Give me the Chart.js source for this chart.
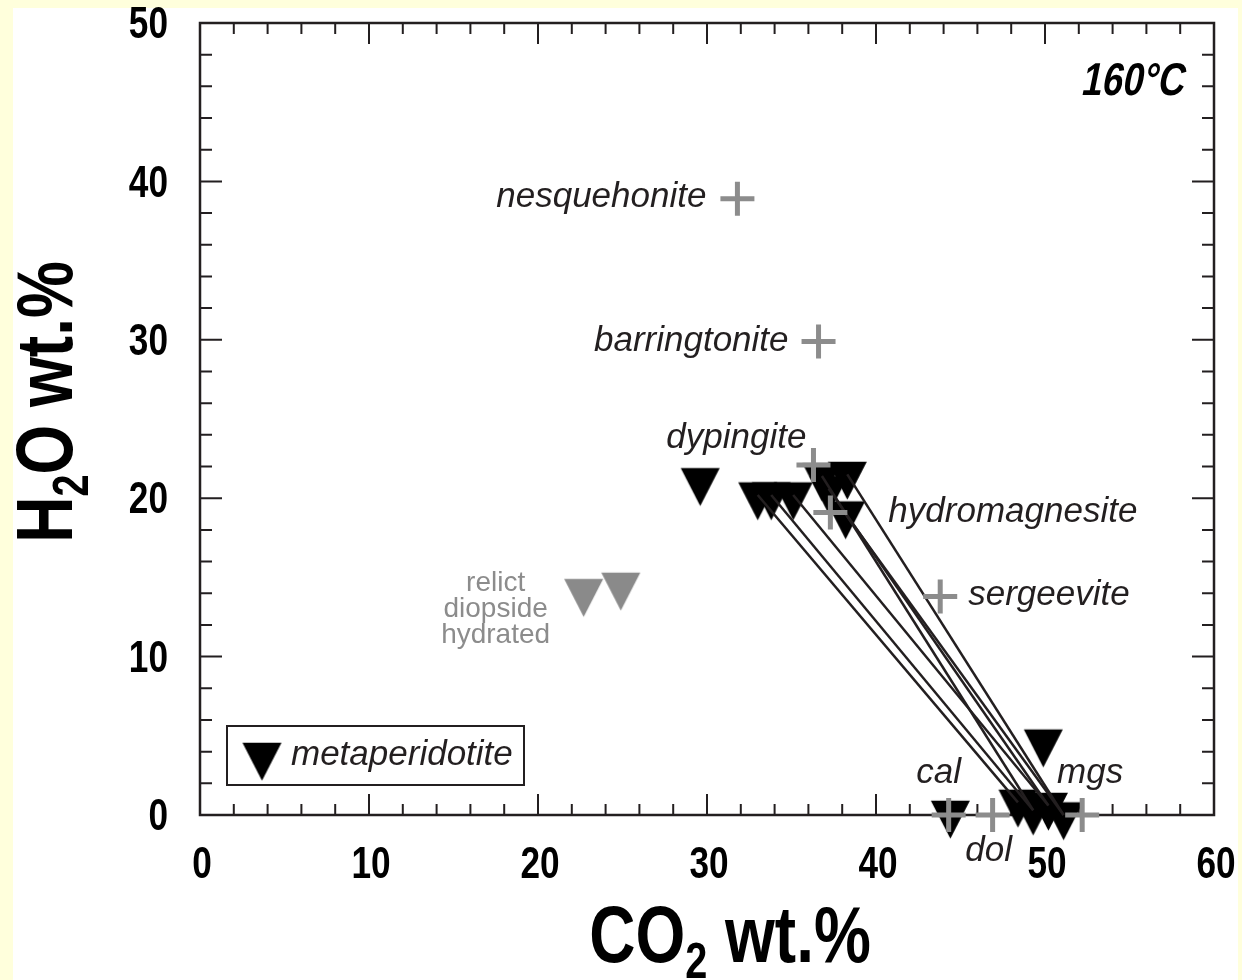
<!DOCTYPE html>
<html lang="en">
<head>
<meta charset="UTF-8" />
<title>H2O vs CO2, 160 C</title>
<script src="https://cdn.jsdelivr.net/npm/chart.js"></script>
<style>
  html, body { margin: 0; padding: 0; background: #ffffdc; }
  #sheet { position: absolute; left: 13px; top: 8px; width: 1225px; height: 972px; background: #fff; }
  #wrap { position: absolute; left: 0; top: 0; width: 1242px; height: 980px; }
</style>
</head>
<body>
<div id="sheet"></div>
<div id="wrap"><canvas id="chart"></canvas></div>
<script>
// reference minerals (grey crosses)
const mineralNames = ["nesquehonite", "barringtonite", "dypingite", "hydromagnesite", "sergeevite", "cal", "dol", "mgs"];
const mineralCO2 = [31.8, 36.6, 36.3, 37.3, 43.8, 44.3, 46.9, 52.2];
const mineralH2O = [38.9, 29.9, 22.1, 19.1, 13.8, 0, 0, 0];

// metaperidotite run products (black triangles)
const metaCO2 = [29.6, 33.0, 33.8, 35.1, 36.8, 38.3, 37.2, 38.2, 49.9, 44.4, 48.4, 49.3, 50.2, 51.1];
const metaH2O = [21.1, 20.2, 20.2, 20.2, 21.4, 21.5, 20.6, 19.0, 4.6, 0.1, 0.8, 0.3, 0.6, 0.0];

// tie lines between metaperidotite points (indices)
const tieFrom = [1, 2, 3, 4, 6, 5, 7];
const tieTo = [10, 11, 12, 11, 12, 13, 13];

// relict diopside, hydrated (grey triangles)
const relictCO2 = [22.7, 24.9];
const relictH2O = [14.1, 14.5];
const relictText = ["relict", "diopside", "hydrated"];

const legendText = "metaperidotite";
const tempText = "160°C";
const xMajor = 10, yMajor = 10, minorStep = 2;

// label placement, pixels from each mineral cross
const labelDX = [-31, -30, -7, 58, 28, -10, -4, 8];
const labelDY = [-2, 0, -27, 0, -1, -42, 36, -42];
const labelAlign = ["right", "right", "right", "left", "left", "center", "center", "center"];

const SANS = "'Liberation Sans', Arial, sans-serif";
const squeeze = 0.8; // condensed look for the bold axis text

const pts = (xs, ys) => xs.map((x, i) => ({ x: x, y: ys[i] }));

// downward triangle marker, centroid at the image centre
function triMarker(color, w, h) {
  const c = document.createElement("canvas");
  c.width = Math.ceil(w) + 2;
  c.height = Math.ceil(h * 4 / 3) + 2;
  const g = c.getContext("2d");
  const cx = c.width / 2, top = c.height / 2 - h / 3;
  g.fillStyle = color;
  g.beginPath();
  g.moveTo(cx - w / 2, top);
  g.lineTo(cx + w / 2, top);
  g.lineTo(cx, top + h);
  g.closePath();
  g.fill();
  return c;
}
const blackTri = triMarker("#000", 39, 38);
const greyTri = triMarker("#8a8a8a", 39, 38);

// bold condensed text with optional subscript pieces
function boldText(ctx, parts, x, y, size, align, style) {
  const f = s => (style || "") + " bold " + s + "px " + SANS;
  ctx.save();
  ctx.translate(x, y);
  ctx.scale(squeeze, 1);
  let w = 0;
  for (const p of parts) {
    ctx.font = f(p.sub ? size * 0.62 : size);
    w += ctx.measureText(p.t).width;
  }
  let cx = align === "center" ? -w / 2 : align === "right" ? -w : 0;
  ctx.textAlign = "left";
  for (const p of parts) {
    ctx.font = f(p.sub ? size * 0.62 : size);
    ctx.fillText(p.t, cx, p.sub ? size * 0.2 : 0);
    cx += ctx.measureText(p.t).width;
  }
  ctx.restore();
}

const framePlugin = {
  id: "frame",
  beforeDatasetsDraw(chart) {
    const { ctx, chartArea: a, scales: { x, y } } = chart;
    ctx.save();
    ctx.strokeStyle = "#231f20";
    ctx.lineWidth = 2.5;
    ctx.strokeRect(a.left, a.top, a.right - a.left, a.bottom - a.top);
    ctx.lineWidth = 2;
    ctx.beginPath();
    for (let v = x.min; v <= x.max; v += minorStep) {
      const px = x.getPixelForValue(v);
      const len = v % xMajor === 0 ? 21 : 11;
      ctx.moveTo(px, a.bottom); ctx.lineTo(px, a.bottom - len);
      ctx.moveTo(px, a.top); ctx.lineTo(px, a.top + len);
    }
    for (let v = y.min; v <= y.max; v += minorStep) {
      const py = y.getPixelForValue(v);
      const len = v % yMajor === 0 ? 22 : 12;
      ctx.moveTo(a.left, py); ctx.lineTo(a.left + len, py);
      ctx.moveTo(a.right, py); ctx.lineTo(a.right - len, py);
    }
    ctx.stroke();
    // tick labels
    ctx.fillStyle = "#000";
    ctx.textBaseline = "middle";
    x.ticks.forEach(t => boldText(ctx, [{ t: String(t.value) }], x.getPixelForValue(t.value) + 2, a.bottom + 51, 44, "center"));
    y.ticks.forEach(t => boldText(ctx, [{ t: String(t.value) }], a.left - 32, y.getPixelForValue(t.value) + 3, 44, "right"));
    ctx.restore();
  },
  afterDatasetsDraw(chart) {
    const { ctx, chartArea: a, scales: { x, y } } = chart;
    ctx.save();
    // mineral labels
    ctx.fillStyle = "#231f20";
    ctx.font = "italic 35px " + SANS;
    ctx.textBaseline = "middle";
    mineralNames.forEach((n, i) => {
      ctx.textAlign = labelAlign[i];
      ctx.fillText(n, x.getPixelForValue(mineralCO2[i]) + labelDX[i], y.getPixelForValue(mineralH2O[i]) + labelDY[i]);
    });
    // relict diopside label
    ctx.fillStyle = "#8c8c8c";
    ctx.font = "28px " + SANS;
    ctx.textAlign = "center";
    ctx.textBaseline = "alphabetic";
    const rx = x.getPixelForValue(relictCO2[0]) - 88;
    const ry = y.getPixelForValue(relictH2O[0]);
    relictText.forEach((t, i) => ctx.fillText(t, rx, ry - 1 + i * 26));
    // temperature
    ctx.fillStyle = "#000";
    ctx.textBaseline = "alphabetic";
    ctx.save();
    ctx.translate(a.right - 31, a.top + 72);
    ctx.transform(1, 0, -0.2, 1, 0, 0);
    boldText(ctx, [{ t: tempText }], 0, 0, 46, "right");
    ctx.restore();
    // legend box
    const lx = a.left + 27, ly = a.bottom - 89, lw = 297, lh = 59;
    ctx.fillStyle = "#fff";
    ctx.fillRect(lx, ly, lw, lh);
    ctx.strokeStyle = "#231f20";
    ctx.lineWidth = 2;
    ctx.strokeRect(lx, ly, lw, lh);
    const tx = lx + 35, ty = ly + lh / 2;
    ctx.drawImage(blackTri, tx - blackTri.width / 2, ty - blackTri.height / 2);
    ctx.fillStyle = "#231f20";
    ctx.font = "italic 35px " + SANS;
    ctx.textAlign = "left";
    ctx.textBaseline = "middle";
    ctx.fillText(legendText, lx + 64, ty);
    // axis titles
    ctx.fillStyle = "#000";
    ctx.textBaseline = "alphabetic";
    boldText(ctx, [{ t: "CO" }, { t: "2", sub: true }, { t: " wt.%" }], (a.left + a.right) / 2 + 23, 962, 80, "center");
    ctx.save();
    ctx.translate(72, (a.top + a.bottom) / 2 - 17);
    ctx.rotate(-Math.PI / 2);
    boldText(ctx, [{ t: "H" }, { t: "2", sub: true }, { t: "O wt.%" }], 0, 0, 80, "center");
    ctx.restore();
    ctx.restore();
  }
};

const datasets = [
  {
    label: "minerals",
    data: pts(mineralCO2, mineralH2O),
    pointStyle: "cross",
    pointRadius: 17,
    borderWidth: 5,
    borderColor: "#8c8c8c",
    backgroundColor: "#8c8c8c",
    order: 0,
    clip: false
  },
  ...tieFrom.map((f, i) => ({
    label: "tie " + i,
    data: [{ x: metaCO2[f], y: metaH2O[f] }, { x: metaCO2[tieTo[i]], y: metaH2O[tieTo[i]] }],
    showLine: true,
    borderColor: "#231f20",
    borderWidth: 2.5,
    pointRadius: 0,
    order: 1,
    clip: false
  })),
  {
    label: legendText,
    data: pts(metaCO2, metaH2O),
    pointStyle: blackTri,
    pointRadius: 20,
    order: 2,
    clip: false
  },
  {
    label: "relict diopside hydrated",
    data: pts(relictCO2, relictH2O),
    pointStyle: greyTri,
    pointRadius: 20,
    order: 3,
    clip: false
  }
];

new Chart(document.getElementById("chart"), {
  type: "scatter",
  data: { datasets: datasets },
  options: {
    responsive: true,
    maintainAspectRatio: false,
    animation: false,
    events: [],
    layout: { autoPadding: false, padding: { top: 23, right: 28, left: 0, bottom: 0 } },
    plugins: { legend: { display: false }, tooltip: { enabled: false } },
    scales: {
      x: {
        type: "linear",
        min: 0,
        max: 60,
        afterFit(s) { s.height = 165; },
        grid: { display: false, drawTicks: false },
        border: { display: false },
        ticks: { stepSize: xMajor, display: false }
      },
      y: {
        type: "linear",
        min: 0,
        max: 50,
        afterFit(s) { s.width = 200; },
        grid: { display: false, drawTicks: false },
        border: { display: false },
        ticks: { stepSize: yMajor, display: false }
      }
    }
  },
  plugins: [framePlugin]
});
</script>
</body>
</html>
